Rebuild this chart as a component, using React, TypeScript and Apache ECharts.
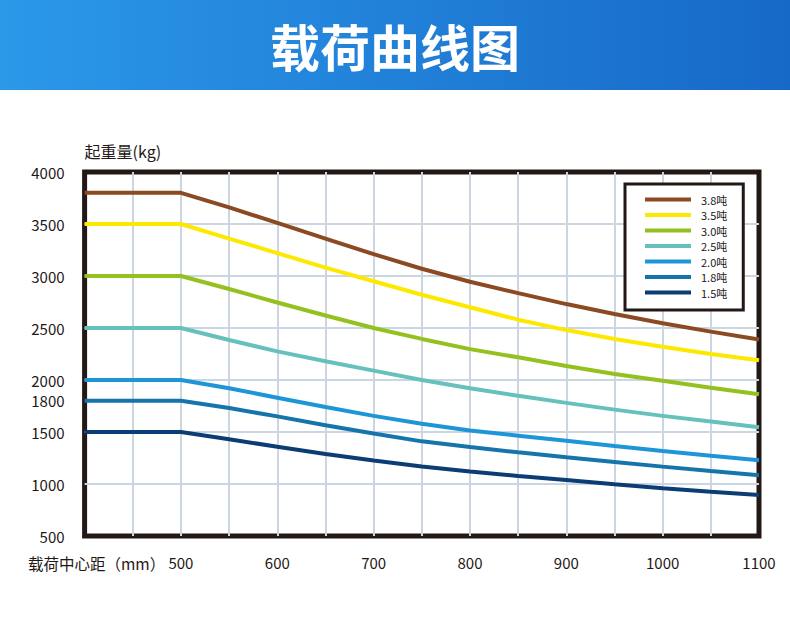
import { useEffect, useRef } from "react";
import * as echarts from "echarts";

// 载荷中心距 (mm)
const loadCenters = [400, 500, 550, 600, 650, 700, 750, 800, 850, 900, 950, 1000, 1050, 1100];

// 起重量 (kg)
const load38 = [3800, 3800, 3660, 3510, 3360, 3210, 3070, 2945, 2835, 2730, 2635, 2545, 2465, 2390];
const load35 = [3500, 3500, 3360, 3220, 3080, 2950, 2820, 2700, 2580, 2480, 2395, 2320, 2250, 2190];
const load30 = [3000, 3000, 2875, 2745, 2620, 2500, 2395, 2297, 2218, 2135, 2058, 1993, 1926, 1862];
const load25 = [2500, 2500, 2385, 2275, 2180, 2090, 2000, 1920, 1848, 1780, 1715, 1655, 1600, 1545];
const load20 = [2000, 2000, 1920, 1830, 1740, 1655, 1580, 1515, 1465, 1415, 1365, 1317, 1272, 1228];
const load18 = [1800, 1800, 1730, 1650, 1565, 1485, 1410, 1355, 1305, 1257, 1212, 1167, 1125, 1084];
const load15 = [1500, 1500, 1430, 1358, 1288, 1225, 1168, 1120, 1078, 1038, 998, 960, 926, 894];

const seriesNames = ["3.8吨", "3.5吨", "3.0吨", "2.5吨", "2.0吨", "1.8吨", "1.5吨"];
const seriesValues = [load38, load35, load30, load25, load20, load18, load15];
const seriesColors = ["#8b4a22", "#fde800", "#94c11f", "#66c1bd", "#1e95d7", "#1575aa", "#0b3c74"];

const yTickLabels = [500, 1000, 1500, 1800, 2000, 2500, 3000, 3500, 4000];
const xTickLabels = [500, 600, 700, 800, 900, 1000, 1100];

const FONT = "Noto Sans CJK SC";
const INK = "#231815";

export default function App() {
    const chartRef = useRef<HTMLDivElement>(null);

    useEffect(() => {
        if (!chartRef.current) return;
        const chart = echarts.init(chartRef.current, null, { renderer: "svg" });

        const option = {
            animation: false,
            backgroundColor: "#ffffff",
            textStyle: { fontFamily: FONT },
            title: {
                text: "载荷曲线图",
                left: "center",
                top: 20,
                padding: 0,
                textStyle: {
                    color: "#ffffff",
                    fontSize: 50,
                    fontWeight: "bold",
                    fontFamily: FONT,
                },
            },
            graphic: [
                {
                    type: "rect",
                    z: 0,
                    shape: { x: 0, y: 0, width: 790, height: 90 },
                    style: {
                        fill: new echarts.graphic.LinearGradient(0, 0, 1, 0, [
                            { offset: 0, color: "#2b98e8" },
                            { offset: 1, color: "#1769c8" },
                        ]),
                    },
                },
            ],
            legend: {
                orient: "vertical",
                left: 625,
                top: 184,
                icon: "rect",
                itemWidth: 46,
                itemHeight: 4,
                itemGap: 0.5,
                padding: [8, 16, 10, 20],
                borderColor: INK,
                borderWidth: 3,
                backgroundColor: "#ffffff",
                data: seriesNames,
                textStyle: {
                    fontSize: 11,
                    lineHeight: 15,
                    color: INK,
                    fontFamily: FONT,
                    padding: [0, 0, 0, 5],
                },
            },
            grid: {
                left: 84.6,
                right: 31,
                top: 172,
                bottom: 98,
                show: true,
                borderColor: INK,
                borderWidth: 5,
                backgroundColor: "transparent",
            },
            xAxis: {
                type: "value",
                min: 400,
                max: 1100,
                interval: 50,
                name: "载荷中心距（mm）",
                nameLocation: "start",
                nameGap: 56.6,
                nameMoveOverlap: false,
                nameTextStyle: {
                    align: "left",
                    verticalAlign: "top",
                    padding: [19, 0, 0, 0],
                    fontSize: 15.5,
                    color: INK,
                    fontFamily: FONT,
                },
                axisLine: { show: false },
                axisTick: { show: false },
                axisLabel: {
                    customValues: xTickLabels,
                    formatter: (v: number) => String(v),
                    margin: 19,
                    fontSize: 15,
                    color: INK,
                    fontFamily: FONT,
                },
                splitLine: {
                    showMinLine: false,
                    showMaxLine: false,
                    lineStyle: { color: "#cad7e3", width: 2 },
                },
            },
            yAxis: {
                type: "value",
                min: 500,
                max: 4000,
                interval: 500,
                name: "起重量(kg)",
                nameLocation: "end",
                nameGap: 21,
                nameMoveOverlap: false,
                nameTextStyle: {
                    align: "left",
                    verticalAlign: "middle",
                    fontSize: 16,
                    color: INK,
                    fontFamily: FONT,
                },
                axisLine: { show: false },
                axisTick: { show: false },
                axisLabel: {
                    customValues: yTickLabels,
                    formatter: (v: number) => String(v),
                    margin: 20,
                    fontSize: 15,
                    color: INK,
                    fontFamily: FONT,
                },
                splitLine: {
                    showMinLine: false,
                    showMaxLine: false,
                    lineStyle: { color: "#cad7e3", width: 2 },
                },
            },
            series: seriesNames.map((name, i) => ({
                name,
                type: "line",
                showSymbol: false,
                symbol: "none",
                color: seriesColors[i],
                lineStyle: { width: 4, color: seriesColors[i] },
                data: loadCenters.map((x, j) => [x, seriesValues[i][j]]),
            })),
        };

        chart.setOption(option);

        return () => {
            chart.dispose();
        };
    }, []);

    return (
        <div
            ref={chartRef}
            style={{ position: "fixed", left: 0, top: 0, width: "790px", height: "634px" }}
        />
    );
}
